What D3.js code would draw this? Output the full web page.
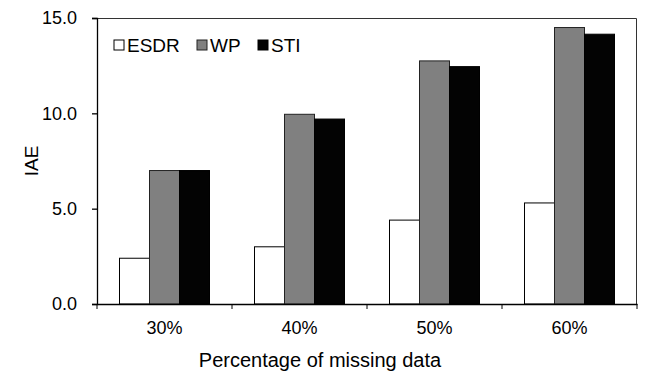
<!DOCTYPE html>
<html>
<head>
<meta charset="utf-8">
<script src="https://cdn.jsdelivr.net/npm/d3@7"></script>
<style>
  body { margin: 0; background: #fff; }
  svg text { font-family: "Liberation Sans", Arial, sans-serif; fill: #000; }
</style>
</head>
<body>
<div id="chart"></div>
<script>
// data
var categories = ['30%', '40%', '50%', '60%'];
var seriesNames = ['ESDR', 'WP', 'STI'];
var esdr = [2.4, 3.0, 4.4, 5.3];
var wp = [7.0, 9.95, 12.75, 14.5];
var sti = [7.0, 9.7, 12.45, 14.15];
var yTicks = [0, 5, 10, 15];

var colors = { ESDR: '#ffffff', WP: '#808080', STI: '#030303' };
var strokes = { ESDR: '#000', WP: '#222', STI: '#000' };

var width = 646, height = 372
  , margin = { top: 18, right: 9, bottom: 68, left: 97 }
  , innerW = width - margin.left - margin.right
  , innerH = height - margin.top - margin.bottom
;

var rows = categories.map(function (c, i) {
  return { label: c, values: [
    { key: 'ESDR', value: esdr[i] },
    { key: 'WP', value: wp[i] },
    { key: 'STI', value: sti[i] }
  ] };
});

var svg = d3.select('#chart').append('svg')
    .attr('width', width)
    .attr('height', height);

var g = svg.append('g')
    .attr('transform', 'translate(' + margin.left + ',' + margin.top + ')');

var x0 = d3.scaleBand().domain(categories).range([0, innerW]).paddingInner(0).paddingOuter(0);
var x1 = d3.scaleBand().domain(seriesNames).range([0, x0.bandwidth()]).paddingOuter(0.75);
var y = d3.scaleLinear().domain([0, 15]).range([innerH, 0]);

// bars
var groups = g.selectAll('g.cat')
    .data(rows)
  .enter().append('g')
    .attr('class', 'cat')
    .attr('transform', function (d) { return 'translate(' + x0(d.label) + ',0)'; });

groups.selectAll('rect')
    .data(function (d) { return d.values; })
  .enter().append('rect')
    .attr('x', function (d) { return x1(d.key); })
    .attr('width', x1.bandwidth())
    .attr('y', function (d) { return y(d.value); })
    .attr('height', function (d) { return innerH - y(d.value); })
    .attr('fill', function (d) { return colors[d.key]; })
    .attr('stroke', function (d) { return strokes[d.key]; })
    .attr('stroke-width', 1);

// plot frame (top / right)
g.append('path')
    .attr('d', 'M0,0.5H' + (innerW - 0.5) + 'V' + innerH)
    .attr('fill', 'none')
    .attr('stroke', '#333')
    .attr('stroke-width', 1);

// y axis
var yAxis = g.append('g')
    .call(d3.axisLeft(y).tickValues(yTicks).tickFormat(d3.format('.1f')).tickSize(5).tickPadding(15));

// x axis - ticks on category boundaries
var xAxis = g.append('g')
    .attr('transform', 'translate(0,' + innerH + ')')
    .call(d3.axisBottom(x0).tickSize(0).tickPadding(17));

xAxis.selectAll('.bound')
    .data(categories.concat(['end']))
  .enter().append('line')
    .attr('class', 'bound')
    .attr('x1', function (d, i) { return i < categories.length ? x0(d) : innerW; })
    .attr('x2', function (d, i) { return i < categories.length ? x0(d) : innerW; })
    .attr('y1', 0)
    .attr('y2', 5)
    .attr('stroke', '#000');

svg.selectAll('.tick text').style('font-size', '18px');
svg.selectAll('.domain, .tick line').attr('stroke', '#000').attr('stroke-width', 1.3);

// axis titles
svg.append('text')
    .attr('transform', 'translate(38,' + (margin.top + innerH / 2) + ') rotate(-90)')
    .attr('text-anchor', 'middle')
    .style('font-size', '19px')
    .text('IAE');

svg.append('text')
    .attr('x', margin.left + innerW / 2 - 47)
    .attr('y', 367)
    .attr('text-anchor', 'middle')
    .style('font-size', '20px')
    .text('Percentage of missing data');

// legend
var legendX = [114, 197, 258];
var legend = svg.selectAll('g.legend')
    .data(seriesNames)
  .enter().append('g')
    .attr('class', 'legend')
    .attr('transform', function (d, i) { return 'translate(' + legendX[i] + ',40)'; });

legend.append('rect')
    .attr('width', 10)
    .attr('height', 10)
    .attr('fill', function (d) { return colors[d]; })
    .attr('stroke', function (d) { return strokes[d]; });

legend.append('text')
    .attr('x', 13)
    .attr('y', 12)
    .style('font-size', '19px')
    .text(function (d) { return d; });
</script>
</body>
</html>
